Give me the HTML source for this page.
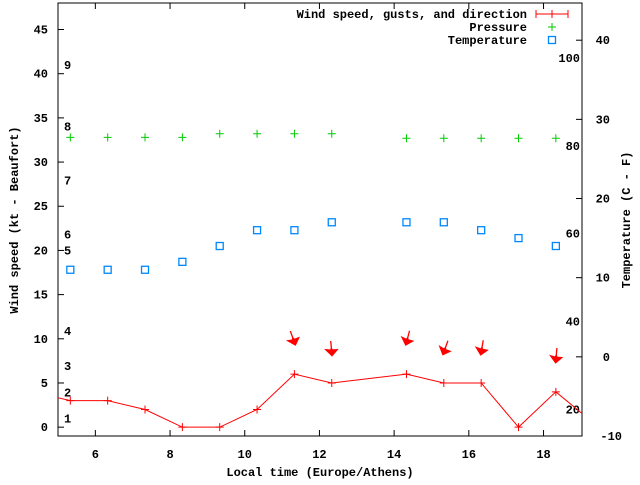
<!DOCTYPE html>
<html><head><meta charset="utf-8"><style>
html,body{margin:0;padding:0;background:#fff}
svg text{font-family:"Liberation Mono",monospace;font-weight:bold;font-size:12px;fill:#000}
</style></head><body>
<svg id="chart" width="640" height="480" xmlns="http://www.w3.org/2000/svg"></svg>
<script>
const hours = [5.33,6.33,7.33,8.33,9.33,10.33,11.33,12.33,14.33,15.33,16.33,17.33,18.33];
const windKt = [3,3,2,0,0,2,6,5,6,5,5,0,4];
const windEdgeHours = [4.33,19.33];
const windEdgeKt = [4,0.5];
const pressure = [32.8,32.8,32.8,32.8,33.2,33.2,33.2,33.2,32.7,32.7,32.7,32.7,32.7];
const tempHours = [5.33,6.33,7.33,8.33,9.33,10.33,11.33,12.33,14.33,15.33,16.33,17.33,18.33];
const tempC = [11,11,11,12,14,16,16,17,17,17,16,15,14];
const gustHours = [11.33,12.33,14.33,15.33,16.33,18.33];
const gustKt = [9.6,8.4,9.6,8.5,8.5,7.6];
const gustDir = [340,355,15,20,10,5];
const xTicks = [6,8,10,12,14,16,18];
const yTicks = [0,5,10,15,20,25,30,35,40,45];
const cTicks = [-10,0,10,20,30,40];
const fTicks = [20,40,60,80,100];
const bftLabels = ['1','2','3','4','5','6','7','8','9'];
const bftKt = [1,3.9,6.9,10.9,20,21.8,27.9,34,41];

const L=58,R=582,T=3,B=436;
const X=h=>L+(h-5)/(19.03-5)*(R-L);
const Y=k=>B-(k+1)/(48+1)*(B-T);
const YC=c=>B-(c+10)/(44.7+10)*(B-T);
const YF=f=>YC((f-32)*5/9);
const svg=document.getElementById('chart');
const NS='http://www.w3.org/2000/svg';
function mk(tag,attrs,parent){const e=document.createElementNS(NS,tag);for(const k in attrs)e.setAttribute(k,attrs[k]);(parent||svg).appendChild(e);return e;}
function txt(x,y,s,anchor,parent){const t=mk('text',{x:x,y:y,'text-anchor':anchor||'start'},parent);t.textContent=s;return t;}

const frame=mk('rect',{x:L,y:T,width:R-L,height:B-T,fill:'none',stroke:'#000','stroke-width':1});



const xg=mk('g',{});


xTicks.forEach(v=>{const x=X(v);mk('line',{x1:x,x2:x,y1:B,y2:B-6,stroke:'#000'},xg);mk('line',{x1:x,x2:x,y1:T,y2:T+6,stroke:'#000'},xg);
 const t=txt(x,458,String(v),'middle',xg);});
const yg=mk('g',{});


yTicks.forEach(v=>{const y=Y(v);mk('line',{x1:L,x2:L+6,y1:y,y2:y,stroke:'#000'},yg);
 const t=txt(48,y+4,String(v),'end',yg);});
const cg=mk('g',{});


cTicks.forEach(v=>{const y=YC(v);mk('line',{x1:R,x2:R-6,y1:y,y2:y,stroke:'#000'},cg);
 const t=txt(v<0?622:610,y+4,String(v),'end',cg);});
const fg=mk('g',{});


fTicks.forEach(v=>{const t=txt(580,YF(v)+4,String(v),'end',fg);});
const bg=mk('g',{});


bftLabels.forEach((s,i)=>{const t=txt(64,Y(bftKt[i])+4,s,'start',bg);});

const xt=txt(320,476,'Local time (Europe/Athens)','middle');


const yt=txt(0,0,'Wind speed (kt - Beaufort)','middle');yt.setAttribute('transform','translate(18,220) rotate(-90)');


const yt2=txt(0,0,'Temperature (C - F)','middle');yt2.setAttribute('transform','translate(630,220) rotate(-90)');



const cp=mk('clipPath',{id:'pc'});
mk('rect',{x:L,y:T,width:R-L,height:B-T},cp);

const allH=[windEdgeHours[0]].concat(hours,[windEdgeHours[1]]);
const allK=[windEdgeKt[0]].concat(windKt,[windEdgeKt[1]]);
const wl=mk('polyline',{points:allH.map((h,i)=>X(h)+','+Y(allK[i])).join(' '),fill:'none',stroke:'#f00','stroke-width':1,'clip-path':'url(#pc)'});


hours.forEach((h,i)=>{const x=X(h),y=Y(windKt[i]);const p=mk('path',{d:`M${x-4},${y}h8M${x},${y-4}v8`,stroke:'#f00'});
 });
gustHours.forEach((h,i)=>{const x=X(h),y=Y(gustKt[i]);const a=gustDir[i];
 const g=mk('g',{transform:`translate(${x},${y}) rotate(${a})`});
 
 mk('line',{x1:0,y1:-12,x2:0,y2:-3,stroke:'#f00','stroke-width':1.3},g);
 mk('path',{d:'M0,3 L-6,-4 L-1,-3 L0,-5 L1,-3 L6,-3 Z',fill:'#f00',stroke:'#f00','stroke-width':1},g);});

hours.forEach((h,i)=>{const x=X(h),y=Y(pressure[i]);const p=mk('path',{d:`M${x-4},${y}h8M${x},${y-4}v8`,stroke:'#0c0'});
 });
tempHours.forEach((h,i)=>{const r=mk('rect',{x:X(h)-3.5,y:YC(tempC[i])-3.5,width:7,height:7,fill:'none',stroke:'#08f','stroke-width':1.3});
 });

const lg=mk('g',{});


txt(527,18,'Wind speed, gusts, and direction','end',lg);
mk('path',{d:'M536,14h32M536,10v8M568,10v8M552,10v8',stroke:'#f00'},lg);
txt(527,31,'Pressure','end',lg);
mk('path',{d:'M548,27h8M552,23v8',stroke:'#0c0'},lg);
txt(527,44,'Temperature','end',lg);
mk('rect',{x:548.5,y:36.5,width:7,height:7,fill:'none',stroke:'#08f','stroke-width':1.3},lg);
</script>
</body></html>
